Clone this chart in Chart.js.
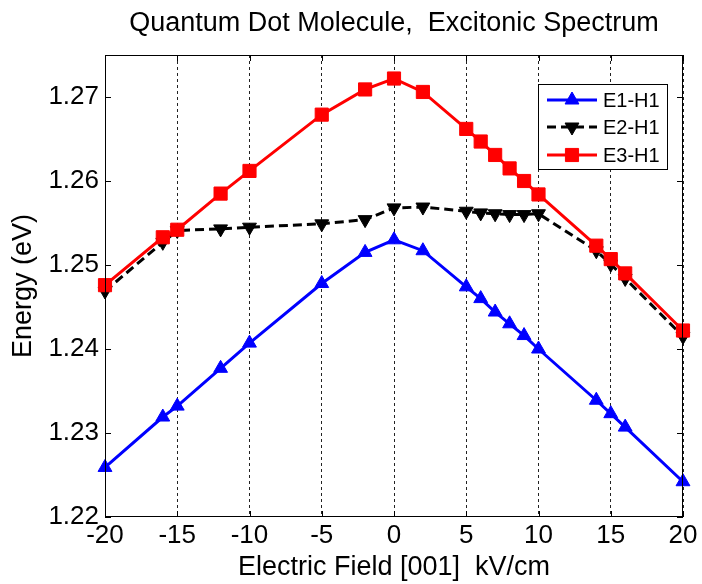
<!DOCTYPE html>
<html>
<head>
<meta charset="utf-8">
<script src="https://cdn.jsdelivr.net/npm/chart.js@4/dist/chart.umd.min.js"></script>
<style>
  html, body { margin: 0; padding: 0; background: #fff; }
  #wrap { width: 702px; height: 584px; }
</style>
</head>
<body>
<div id="wrap"><canvas id="plot" width="702" height="584"></canvas></div>
<script>
const fieldValues = [-20, -16, -15, -12, -10, -5, -2, 0, 2, 5, 6, 7, 8, 9, 10, 14, 15, 16, 20];
const e1h1 = [1.2259, 1.2319, 1.2332, 1.2377, 1.2407, 1.2478, 1.2515, 1.2530, 1.2517, 1.2474, 1.2460, 1.2444, 1.2430, 1.2416, 1.2400, 1.2339, 1.2323, 1.2307, 1.2242];
const e2h1 = [1.2469, 1.2527, 1.2541, 1.2543, 1.2545, 1.2549, 1.2554, 1.2568, 1.2569, 1.2564, 1.2562, 1.2561, 1.2560, 1.2560, 1.2561, 1.2517, 1.2501, 1.2484, 1.2415];
const e3h1 = [1.2476, 1.2533, 1.2542, 1.2585, 1.2612, 1.2679, 1.2709, 1.2722, 1.2706, 1.2662, 1.2647, 1.2631, 1.2615, 1.2600, 1.2584, 1.2523, 1.2507, 1.2490, 1.2422];
const seriesNames = ["E1-H1", "E2-H1", "E3-H1"];
const xTicks = [-20, -15, -10, -5, 0, 5, 10, 15, 20];
const yTicks = [1.22, 1.23, 1.24, 1.25, 1.26, 1.27];

const FONT = "'Liberation Sans', Arial, sans-serif";

function toPoints(ys) {
  return fieldValues.map((x, i) => ({ x: x, y: ys[i] }));
}

const styles = [
  { color: "#0000ff", dash: [], point: "triangle", rot: 0, r: 8 },
  { color: "#000000", dash: [9, 5], point: "triangle", rot: 180, r: 8 },
  { color: "#ff0000", dash: [], point: "rect", rot: 0, r: 9.3 },
];
const seriesData = [e1h1, e2h1, e3h1];

const datasets = seriesData.map((ys, i) => ({
  label: seriesNames[i],
  data: toPoints(ys),
  borderColor: styles[i].color,
  backgroundColor: styles[i].color,
  borderWidth: 3,
  borderDash: styles[i].dash,
  pointStyle: styles[i].point,
  rotation: styles[i].rot,
  pointRadius: styles[i].r,
  pointBorderWidth: 1,
  tension: 0,
  clip: false,
  order: 2 - i,
}));

// frame, inward ticks, titles and the legend box
const decorations = {
  id: "decorations",
  afterDatasetsDraw(chart) {
    const ctx = chart.ctx;
    const a = chart.chartArea;
    const xs = chart.scales.x;
    const ys = chart.scales.y;
    ctx.save();
    ctx.strokeStyle = "#000";
    ctx.lineWidth = 1;
    ctx.setLineDash([]);
    ctx.strokeRect(a.left + 0.5, a.top + 0.5, a.right - a.left - 1, a.bottom - a.top - 1);
    ctx.beginPath();
    for (const v of yTicks) {
      const y = Math.round(ys.getPixelForValue(v)) + 0.5;
      ctx.moveTo(a.left, y); ctx.lineTo(a.left + 6, y);
      ctx.moveTo(a.right, y); ctx.lineTo(a.right - 6, y);
    }
    for (const v of xTicks) {
      const x = Math.round(xs.getPixelForValue(v)) + 0.5;
      ctx.moveTo(x, a.top); ctx.lineTo(x, a.top + 6);
      ctx.moveTo(x, a.bottom); ctx.lineTo(x, a.bottom - 6);
    }
    ctx.stroke();

    // legend
    const lx = 538, ly = 84, lw = 129, lh = 85;
    ctx.fillStyle = "#fff";
    ctx.fillRect(lx, ly, lw, lh);
    ctx.strokeRect(lx + 0.5, ly + 0.5, lw, lh);
    ctx.font = "20px " + FONT;
    ctx.textBaseline = "middle";
    ctx.textAlign = "left";
    const rows = [100, 127, 155];
    datasets.forEach((ds, i) => {
      const y = rows[i];
      ctx.strokeStyle = ds.borderColor;
      ctx.lineWidth = 3;
      ctx.setLineDash(ds.borderDash);
      ctx.beginPath();
      ctx.moveTo(547, y); ctx.lineTo(597, y);
      ctx.stroke();
      ctx.setLineDash([]);
      ctx.fillStyle = ds.backgroundColor;
      ctx.lineWidth = 1;
      Chart.helpers.drawPoint(ctx, { pointStyle: ds.pointStyle, rotation: ds.rotation, radius: ds.pointRadius, borderWidth: 1 }, 572, y);
      ctx.fillStyle = "#000";
      ctx.fillText(ds.label, 603, y + 1);
    });

    // titles
    ctx.fillStyle = "#000";
    ctx.textAlign = "center";
    ctx.textBaseline = "middle";
    ctx.font = "27px " + FONT;
    ctx.fillText("Quantum Dot Molecule,  Excitonic Spectrum", (a.left + a.right) / 2, 24);
    ctx.fillText("Electric Field [001]  kV/cm", (a.left + a.right) / 2, 568);
    ctx.translate(24, (a.top + a.bottom) / 2);
    ctx.rotate(-Math.PI / 2);
    ctx.fillText("Energy (eV)", 0, 0);
    ctx.restore();
  },
};

new Chart(document.getElementById("plot"), {
  type: "line",
  data: { datasets: datasets },
  options: {
    responsive: false,
    animation: false,
    devicePixelRatio: 1,
    layout: { padding: { top: 55, right: 19, left: 0, bottom: 0 } },
    plugins: { legend: { display: false }, title: { display: false }, tooltip: { enabled: false } },
    scales: {
      x: {
        type: "linear",
        min: -20,
        max: 20,
        afterFit(scale) { scale.height = 67; },
        afterBuildTicks(scale) { scale.ticks = xTicks.map((v) => ({ value: v })); },
        grid: { color: "#222", lineWidth: 1, drawTicks: false },
        border: { display: false, dash: [3, 3] },
        ticks: { color: "#000", font: { family: FONT, size: 26 }, padding: 3, maxRotation: 0, autoSkip: false },
      },
      y: {
        type: "linear",
        min: 1.22,
        max: 1.275,
        afterFit(scale) { scale.width = 105; },
        afterBuildTicks(scale) { scale.ticks = yTicks.map((v) => ({ value: v })); },
        grid: { display: false, drawTicks: false },
        border: { display: false },
        ticks: {
          color: "#000",
          font: { family: FONT, size: 26 },
          padding: 6,
          callback: (v) => Number(v).toFixed(2),
        },
      },
    },
  },
  plugins: [decorations],
});
</script>
</body>
</html>
